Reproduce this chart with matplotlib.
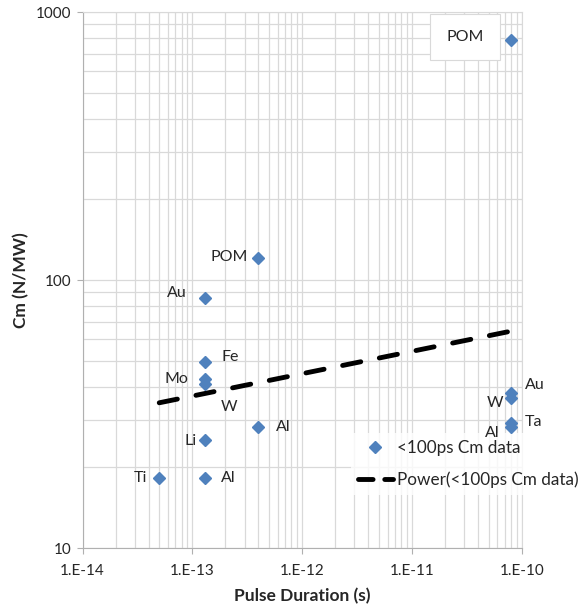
import numpy as np
import matplotlib.pyplot as plt
from matplotlib.lines import Line2D

plt.rcParams['font.family'] = ['Lato', 'DejaVu Sans']

# pulse duration (s) and coupling coefficient Cm (N/MW)
materials = ['POM', 'POM', 'Au', 'Fe', 'Mo', 'W', 'Al', 'Li', 'Ti', 'Al',
             'Au', 'W', 'Ta', 'Al']
pulse = [8e-11, 4e-13, 1.3e-13, 1.3e-13, 1.3e-13, 1.3e-13, 4e-13, 1.3e-13,
         5e-14, 1.3e-13, 8e-11, 8e-11, 8e-11, 8e-11]
cm = [785, 121, 86, 49.4, 42.7, 41, 28.3, 25.3, 18.2, 18.2, 37.8, 36.2, 29.3, 28.4]

# label offsets in pixels (dx, dy, ha)
label_pos = [(-46, 3, 'center'), (-11, 1, 'right'), (-18, 5, 'right'),
             (17, 5, 'left'), (-16, 0, 'right'), (16, -23, 'left'),
             (18, 0, 'left'), (-8, -1, 'right'), (-12, 0, 'right'),
             (16, 0, 'left'), (14, 8, 'left'), (-8, -5, 'right'),
             (14, 1, 'left'), (-11, -6, 'right')]

blue = '#4F81BD'
txt = '#262626'

fig = plt.figure(figsize=(5.81, 6.08), dpi=100)
ax = fig.add_axes([82.5 / 581, 1 - 548 / 608, (521.7 - 82.5) / 581, (548 - 12) / 608])

ax.set_xscale('log')
ax.set_yscale('log')
ax.set_xlim(1e-14, 1e-10)
ax.set_ylim(10, 1000)

ax.grid(True, which='both', color='#d9d9d9', lw=0.9)
ax.set_axisbelow(True)
for s in ax.spines.values():
    s.set_color('#d9d9d9')
ax.spines['left'].set_color('#b0b0b0')
ax.spines['bottom'].set_color('#b0b0b0')

ax.plot(pulse, cm, 'D', color=blue, ms=6, zorder=3, clip_on=False)

# power trendline (fit in log-log space)
lx = np.log10(pulse)
ly = np.log10(cm)
b, a = np.polyfit(lx, ly, 1)
xf = np.array([min(pulse), max(pulse)])
ax.plot(xf, 10 ** (a + b * np.log10(xf)), color='black', lw=3.5,
        linestyle=(0, (3.8, 3.9)), dash_capstyle='round', zorder=2)

for name, x, y, (dx, dy, ha) in zip(materials, pulse, cm, label_pos):
    if name == 'POM' and y > 500:
        ax.annotate(name, (x, y), xytext=(dx, dy), textcoords='offset pixels',
                    ha=ha, va='center', fontsize=11.5, color=txt, zorder=4,
                    bbox=dict(boxstyle='square,pad=1.0', fc='white', ec='#d9d9d9', lw=0.8))
    else:
        ax.annotate(name, (x, y), xytext=(dx, dy), textcoords='offset pixels',
                    ha=ha, va='center', fontsize=11.5, color=txt, zorder=4)

ax.set_xticks([1e-14, 1e-13, 1e-12, 1e-11, 1e-10])
ax.set_xticklabels(['1.E-14', '1.E-13', '1.E-12', '1.E-11', '1.E-10'])
ax.set_yticks([10, 100, 1000])
ax.set_yticklabels(['10', '100', '1000'])
ax.tick_params(which='major', length=4, color='#b0b0b0', labelsize=11, labelcolor=txt)
ax.tick_params(axis='x', which='major', pad=7.5)
ax.tick_params(axis='y', which='major', pad=4)
ax.tick_params(which='minor', length=0)

ax.set_xlabel('Pulse Duration (s)', fontsize=12.5, fontweight='bold', color=txt, labelpad=7)
ax.set_ylabel('Cm (N/MW)', fontsize=12.5, fontweight='bold', color=txt, labelpad=4.5)

handles = [Line2D([], [], marker='D', color=blue, ls='none', ms=6),
           Line2D([], [], color='black', lw=3.5, linestyle=(0, (3.0, 2.4)),
                  dash_capstyle='round')]
leg = ax.legend(handles, ['<100ps Cm data', 'Power(<100ps Cm data)'],
                loc='upper left', bbox_to_anchor=(351 / 581, 1 - 433 / 608),
                bbox_transform=fig.transFigure,
                frameon=True, fontsize=12.3, handlelength=2.05, labelspacing=0.92,
                borderpad=0.4, borderaxespad=0, handletextpad=0.23, fancybox=False)
leg.get_frame().set_facecolor('white')
leg.get_frame().set_edgecolor('none')
leg.set_zorder(2.5)
for t in leg.get_texts():
    t.set_color(txt)

fig.savefig('out.png', dpi=100)
